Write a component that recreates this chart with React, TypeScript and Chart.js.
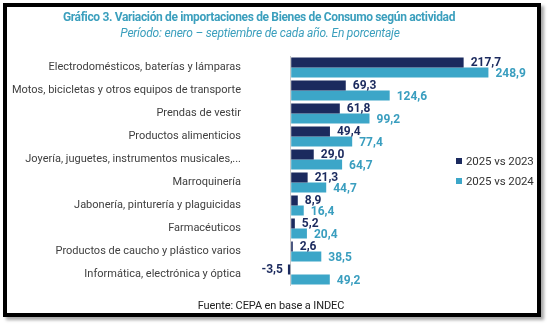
import React, { useEffect, useRef } from "react";
import { Chart, registerables } from "chart.js";
Chart.register(...registerables);

const titleText = "Gráfico 3. Variación de importaciones de Bienes de Consumo según actividad";
const subtitleText = "Período: enero – septiembre de cada año. En porcentaje";
const sourceText = "Fuente: CEPA en base a INDEC";

const categories = [
  "Electrodomésticos, baterías y lámparas",
  "Motos, bicicletas y otros equipos de transporte",
  "Prendas de vestir",
  "Productos alimenticios",
  "Joyería, juguetes, instrumentos musicales,...",
  "Marroquinería",
  "Jabonería, pinturería y plaguicidas",
  "Farmacéuticos",
  "Productos de caucho y plástico varios",
  "Informática, electrónica y óptica",
];
const vs2023 = [217.7, 69.3, 61.8, 49.4, 29.0, 21.3, 8.9, 5.2, 2.6, -3.5];
const vs2024 = [248.9, 124.6, 99.2, 77.4, 64.7, 44.7, 16.4, 20.4, 38.5, 49.2];
const seriesLabels = ["2025 vs 2023", "2025 vs 2024"];

const DARK = "#1b2a5e";
const LIGHT = "#3ca6c8";
const LIGHT_TEXT = "#3a9ebf";
const TEAL_TITLE = "#3b9fbd";
const FONT = "Roboto, 'Noto Sans', sans-serif";

const fmt = (v: number) => v.toFixed(1).replace(".", ",");

const valueLabels = {
  id: "valueLabels",
  afterDatasetsDraw(chart: any) {
    const ctx = chart.ctx;
    ctx.save();
    ctx.font = `bold 12px ${FONT}`;
    ctx.textBaseline = "middle";
    chart.data.datasets.forEach((ds: any, di: number) => {
      const meta = chart.getDatasetMeta(di);
      ctx.fillStyle = di === 0 ? DARK : LIGHT_TEXT;
      meta.data.forEach((el: any, i: number) => {
        const v = ds.data[i];
        const txt = fmt(v);
        if (v >= 0) {
          ctx.textAlign = "left";
          ctx.fillText(txt, el.x + 7, el.y + 1);
        } else {
          ctx.textAlign = "right";
          ctx.fillText(txt, el.x - 5, el.y + 1);
        }
      });
    });
    ctx.restore();
  },
};

export default function App() {
  const ref = useRef<HTMLCanvasElement>(null);
  useEffect(() => {
    if (!ref.current) return;
    const chart = new Chart(ref.current, {
      type: "bar",
      data: {
        labels: categories,
        datasets: [
          { label: seriesLabels[0], data: vs2023, backgroundColor: DARK, categoryPercentage: 0.87, barPercentage: 1 },
          { label: seriesLabels[1], data: vs2024, backgroundColor: LIGHT, categoryPercentage: 0.87, barPercentage: 1 },
        ],
      },
      options: {
        indexAxis: "y",
        animation: false,
        responsive: false,
        maintainAspectRatio: false,
        layout: { padding: { top: 56, bottom: 42, left: 0, right: 21 } },
        plugins: { legend: { display: false }, tooltip: { enabled: false }, title: { display: false } },
        scales: {
          x: {
            min: -50,
            max: 300,
            ticks: { display: false, stepSize: 50 },
            border: { display: false },
            grid: {
              drawTicks: false,
              color: (c: any) => (c.tick && c.tick.value === 0 ? "#c8c8c8" : "rgba(0,0,0,0)"),
              lineWidth: 1,
            },
          },
          y: {
            afterFit: (s: any) => { s.width = 251; },
            border: { display: false },
            grid: { display: false, drawTicks: false },
            ticks: { color: "#404040", font: { family: FONT, size: 11 }, padding: 10 },
          },
        },
      },
      plugins: [valueLabels],
    });
    return () => chart.destroy();
  }, []);

  return (
    <div style={{ position: "absolute", left: 0, top: 0, width: 550, height: 328, background: "#fff", fontFamily: FONT }}>
      <canvas ref={ref} width={550} height={328} style={{ position: "absolute", left: 0, top: 0, width: 550, height: 328 }} />
      <div style={{ position: "absolute", left: 3, top: 3, width: 530, height: 306, border: "4px solid #000", boxShadow: "3px 3px 3px rgba(0,0,0,0.35)", pointerEvents: "none" }} />
      <div style={{ position: "absolute", left: 0, width: 518, top: 9, textAlign: "center", color: TEAL_TITLE, fontWeight: 700, fontSize: 12, letterSpacing: "-0.35px", lineHeight: "16px" }}>{titleText}</div>
      <div style={{ position: "absolute", left: 0, width: 520, top: 25, textAlign: "center", color: TEAL_TITLE, fontStyle: "italic", fontSize: 12, letterSpacing: "-0.2px", lineHeight: "16px" }}>{subtitleText}</div>
      <div style={{ position: "absolute", left: 0, width: 542, top: 299, textAlign: "center", color: "#222", fontSize: 11, letterSpacing: "-0.1px", lineHeight: "14px" }}>{sourceText}</div>
      <div style={{ position: "absolute", left: 456, top: 151, fontSize: 11.5, color: "#333", lineHeight: "20px", letterSpacing: "-0.1px" }}>
        {seriesLabels.map((l, i) => (
          <div key={l} style={{ display: "flex", alignItems: "center", whiteSpace: "nowrap" }}>
            <span style={{ display: "inline-block", width: 6, height: 6, background: i === 0 ? DARK : LIGHT, marginRight: 4 }} />
            <span>{l}</span>
          </div>
        ))}
      </div>
    </div>
  );
}
